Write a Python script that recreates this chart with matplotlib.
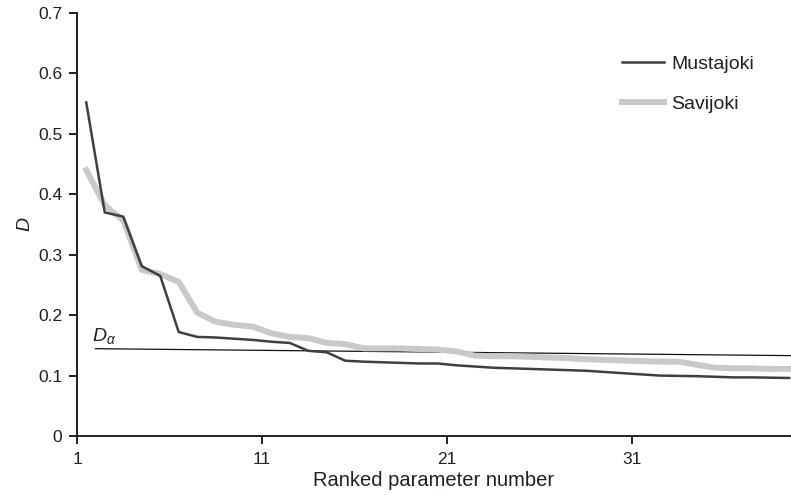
import matplotlib
matplotlib.use("Agg")
import matplotlib.pyplot as plt
import numpy as np

plt.rcParams['font.family'] = ['Liberation Sans', 'DejaVu Sans']
plt.rcParams['mathtext.fontset'] = 'custom'
plt.rcParams['mathtext.rm'] = 'Liberation Sans'
plt.rcParams['mathtext.it'] = 'Liberation Sans:italic'

# ---- data ----
ranks = list(range(1, 40))
mustajoki = [0.552, 0.370, 0.363, 0.281, 0.265, 0.172, 0.164, 0.163, 0.161, 0.159,
             0.156, 0.154, 0.141, 0.1385, 0.1246, 0.123, 0.122, 0.121, 0.120, 0.120,
             0.117, 0.115, 0.113, 0.112, 0.111, 0.110, 0.109, 0.108, 0.106, 0.104,
             0.102, 0.100, 0.0995, 0.099, 0.098, 0.097, 0.097, 0.0965, 0.096]
savijoki = [0.440, 0.382, 0.357, 0.275, 0.268, 0.255, 0.204, 0.189, 0.184, 0.181,
            0.170, 0.164, 0.162, 0.154, 0.152, 0.145, 0.145, 0.145, 0.144, 0.143,
            0.140, 0.133, 0.132, 0.132, 0.131, 0.130, 0.129, 0.127, 0.126, 0.125,
            0.124, 0.123, 0.123, 0.118, 0.113, 0.112, 0.112, 0.111, 0.111]
dalpha_ranks = [1.5, 39.1]
dalpha_values = [0.1445, 0.133]
xtick_labels = [1, 11, 21, 31]
ytick_values = [0, 0.1, 0.2, 0.3, 0.4, 0.5, 0.6, 0.7]
ytick_labels = ["0", "0.1", "0.2", "0.3", "0.4", "0.5", "0.6", "0.7"]

fig = plt.figure(figsize=(7.91, 4.95), dpi=100)
ax = fig.add_axes([77/791, 59/495, (791-77)/791, 423/495])

axis_col = '#231f20'
ax.plot(dalpha_ranks, dalpha_values, color='#111111', lw=0.9, zorder=2)
ax.plot(ranks, savijoki, color='#c8c9cb', lw=4.3, label='Savijoki', zorder=3)
ax.plot(ranks, mustajoki, color='#3f3f3f', lw=1.8, label='Mustajoki', zorder=4)

ax.set_xlim(0.5, 39.1)
ax.set_ylim(0, 0.7)
ax.set_xticks([v - 0.5 for v in xtick_labels])
ax.set_xticklabels([str(v) for v in xtick_labels])
ax.set_yticks(ytick_values)
ax.set_yticklabels(ytick_labels)

for s in ['top', 'right']:
    ax.spines[s].set_visible(False)
for s in ['left', 'bottom']:
    ax.spines[s].set_linewidth(1.4)
    ax.spines[s].set_color(axis_col)
ax.tick_params(axis='both', direction='out', length=5.5, width=1.4, color=axis_col,
               labelsize=12.5, labelcolor=axis_col)
ax.tick_params(axis='y', pad=5)
ax.tick_params(axis='x', pad=6)

ax.set_xlabel('Ranked parameter number', fontsize=14.5, color=axis_col, labelpad=3)
ax.set_ylabel('$D$', fontsize=14, color=axis_col, labelpad=3)

ax.text(1.3, 0.166, r'$D_\alpha$', fontsize=14, color=axis_col, va='center', ha='left')

h, l = ax.get_legend_handles_labels()
leg = ax.legend([h[1], h[0]], [l[1], l[0]], loc='upper left',
                bbox_to_anchor=(622/791, 1 - 55/495), bbox_transform=fig.transFigure,
                frameon=False, fontsize=14, handlelength=2.15, handletextpad=0.4,
                labelspacing=1.15, borderpad=0, borderaxespad=0)
for t in leg.get_texts():
    t.set_color(axis_col)

fig.savefig('out.png', dpi=100)
